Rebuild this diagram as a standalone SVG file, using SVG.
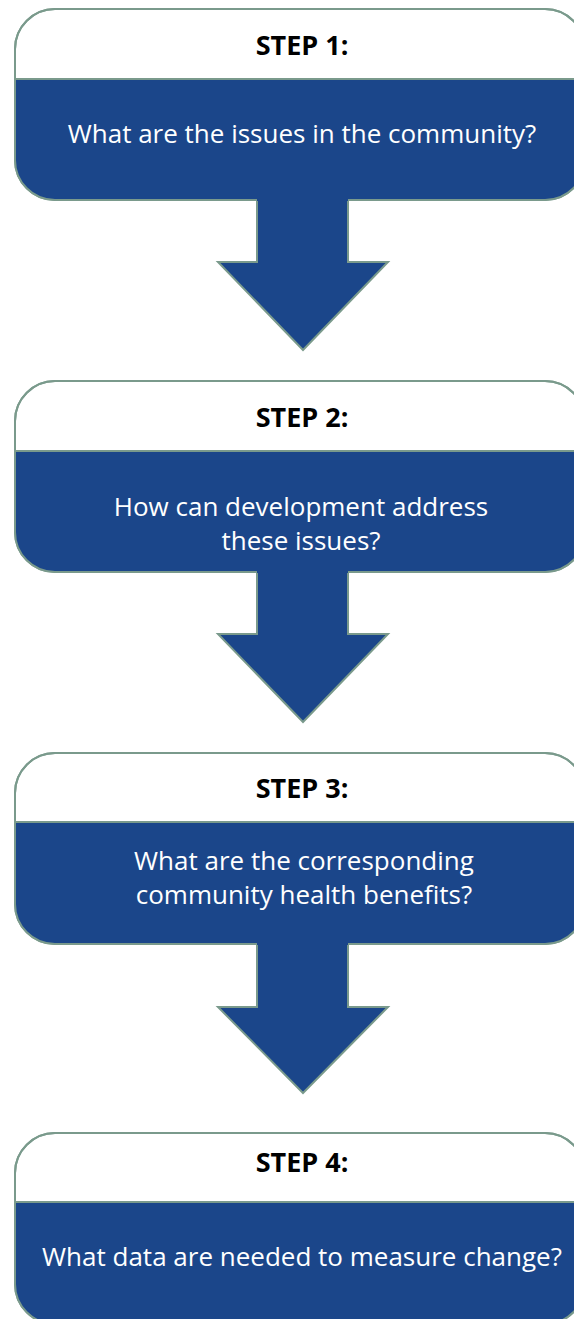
<svg xmlns="http://www.w3.org/2000/svg" width="574" height="1319" viewBox="0 0 574 1319">
<style>
.hdr{fill:#ffffff;stroke:#7a9a8c;stroke-width:2}
.body{fill:#1b468a}
.div{stroke:#7a9a8c;stroke-width:2}
.outline{fill:none;stroke:#7a9a8c;stroke-width:2}
.arrowfill{fill:#1b468a}
.arrowline{fill:none;stroke:#7a9a8c;stroke-width:2;stroke-linejoin:miter}
.title{font-family:"Open Sans","Noto Sans","Liberation Sans",sans-serif;font-weight:bold;font-size:27px;fill:#000000;text-anchor:middle}
.q{font-family:"Open Sans","Noto Sans","Liberation Sans",sans-serif;font-size:26px;fill:#ffffff;text-anchor:middle}
</style>
<rect width="574" height="1319" fill="#ffffff"/>
<g id="step1">
<rect class="hdr" x="15" y="9" width="570" height="191" rx="40"/>
<path class="body" d="M15,79 H585 V160 A40,40 0 0 1 545,200 H55 A40,40 0 0 1 15,160 Z"/>
<rect class="outline" x="15" y="9" width="570" height="191" rx="40"/>
<line class="div" x1="15" y1="79" x2="585" y2="79"/>
<text class="title" x="302" y="55">STEP 1:</text>
<text class="q" x="302" y="143">What are the issues in the community?</text>
</g>
<g id="step2">
<rect class="hdr" x="15" y="381" width="570" height="191" rx="40"/>
<path class="body" d="M15,451 H585 V532 A40,40 0 0 1 545,572 H55 A40,40 0 0 1 15,532 Z"/>
<rect class="outline" x="15" y="381" width="570" height="191" rx="40"/>
<line class="div" x1="15" y1="451" x2="585" y2="451"/>
<text class="title" x="302" y="427">STEP 2:</text>
<text class="q" x="301" y="516">How can development address</text>
<text class="q" x="301" y="550">these issues?</text>
</g>
<g id="step3">
<rect class="hdr" x="15" y="753" width="570" height="191" rx="40"/>
<path class="body" d="M15,822 H585 V904 A40,40 0 0 1 545,944 H55 A40,40 0 0 1 15,904 Z"/>
<rect class="outline" x="15" y="753" width="570" height="191" rx="40"/>
<line class="div" x1="15" y1="822" x2="585" y2="822"/>
<text class="title" x="302" y="798">STEP 3:</text>
<text class="q" x="304" y="870">What are the corresponding</text>
<text class="q" x="304" y="904">community health benefits?</text>
</g>
<g id="step4">
<rect class="hdr" x="15" y="1133" width="570" height="191" rx="40"/>
<path class="body" d="M15,1202 H585 V1284 A40,40 0 0 1 545,1324 H55 A40,40 0 0 1 15,1284 Z"/>
<rect class="outline" x="15" y="1133" width="570" height="191" rx="40"/>
<line class="div" x1="15" y1="1202" x2="585" y2="1202"/>
<text class="title" x="302" y="1172">STEP 4:</text>
<text class="q" x="302" y="1266">What data are needed to measure change?</text>
</g>
<g id="connectors">
<polygon class="arrowfill" points="257,198 348,198 348,262 388,262 303,350 218,262 257,262"/>
<polyline class="arrowline" points="257,201 257,262 218,262 303,350 388,262 348,262 348,201"/>
<polygon class="arrowfill" points="257,570 348,570 348,634 388,634 303,722 218,634 257,634"/>
<polyline class="arrowline" points="257,573 257,634 218,634 303,722 388,634 348,634 348,573"/>
<polygon class="arrowfill" points="257,942 348,942 348,1007 388,1007 303,1093 218,1007 257,1007"/>
<polyline class="arrowline" points="257,945 257,1007 218,1007 303,1093 388,1007 348,1007 348,945"/>
</g>
</svg>
